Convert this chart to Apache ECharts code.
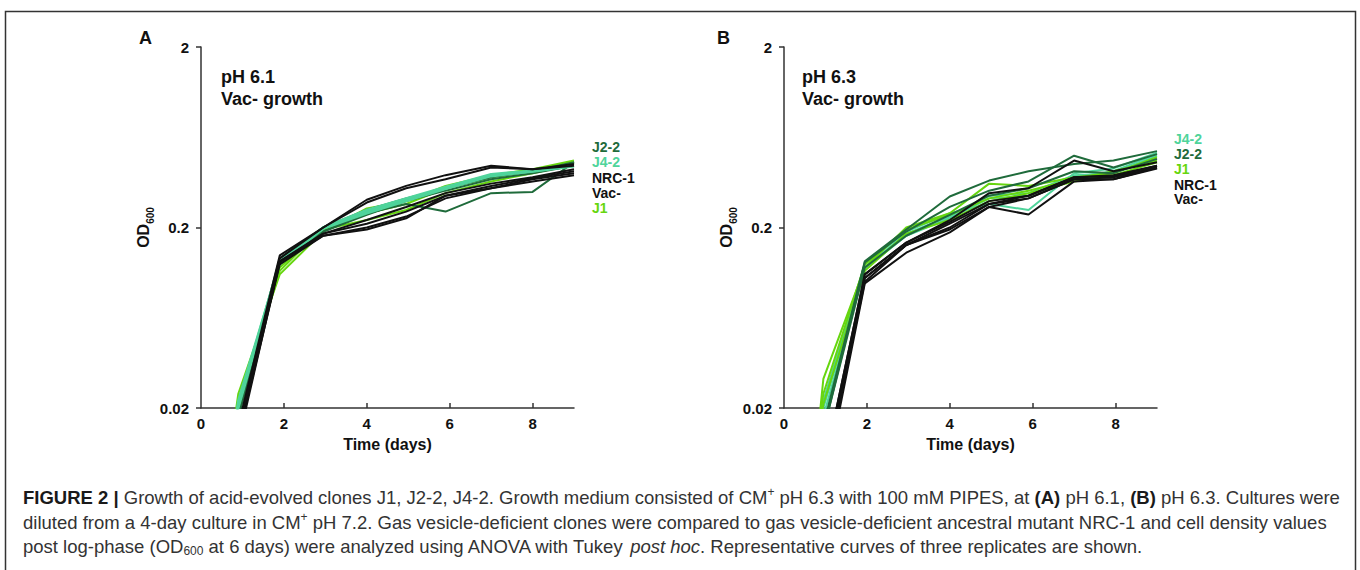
<!DOCTYPE html>
<html>
<head>
<meta charset="utf-8">
<script src="https://cdn.jsdelivr.net/npm/echarts@6/dist/echarts.min.js"></script>
<style>
html,body{margin:0;padding:0;background:#fff;}
#chart{width:1360px;height:570px;}
</style>
</head>
<body>
<div id="chart"></div>
<script>
// ---------- DATA ----------
const X_TICKS = [0, 2, 4, 6, 8];
const Y_TICK_LABELS = ['0.02', '0.2', '2'];
const STRAINS = ['J2-2', 'J4-2', 'NRC-1', 'Vac-', 'J1'];

// Panel A: pH 6.1 (sample times in days)
const A_DAYS = [0, 0.9, 1.9, 2.95, 4, 4.95, 5.9, 7, 8, 9];
const A_J22 = [
  [0.0008, 0.018, 0.13, 0.19, 0.24, 0.27, 0.245, 0.31, 0.315, 0.46],
  [0.0008, 0.019, 0.135, 0.2, 0.25, 0.29, 0.33, 0.38, 0.41, 0.46],
  [0.0008, 0.018, 0.125, 0.19, 0.235, 0.28, 0.32, 0.37, 0.4, 0.44]
];
const A_J42 = [
  [0.0008, 0.021, 0.13, 0.2, 0.245, 0.285, 0.33, 0.39, 0.41, 0.44],
  [0.0008, 0.02, 0.127, 0.197, 0.24, 0.28, 0.328, 0.385, 0.408, 0.437],
  [0.0008, 0.022, 0.128, 0.2, 0.25, 0.29, 0.335, 0.395, 0.413, 0.445]
];
const A_NRC1 = [
  [0.0008, 0.016, 0.14, 0.2, 0.285, 0.34, 0.39, 0.44, 0.42, 0.45],
  [0.0008, 0.015, 0.135, 0.2, 0.275, 0.33, 0.37, 0.43, 0.42, 0.44],
  [0.0008, 0.015, 0.128, 0.185, 0.22, 0.26, 0.31, 0.35, 0.38, 0.42]
];
const A_VAC = [
  [0.0008, 0.014, 0.125, 0.18, 0.2, 0.23, 0.29, 0.33, 0.37, 0.4],
  [0.0008, 0.014, 0.13, 0.18, 0.195, 0.225, 0.3, 0.33, 0.36, 0.39],
  [0.0008, 0.013, 0.13, 0.185, 0.21, 0.245, 0.3, 0.34, 0.375, 0.41]
];
const A_J1 = [
  [0.0008, 0.024, 0.11, 0.19, 0.255, 0.28, 0.34, 0.39, 0.42, 0.47],
  [0.0008, 0.022, 0.12, 0.195, 0.22, 0.25, 0.31, 0.36, 0.4, 0.45],
  [0.0008, 0.02, 0.115, 0.2, 0.24, 0.27, 0.33, 0.38, 0.41, 0.46]
];

// Panel B: pH 6.3
const B_DAYS = [0, 0.95, 1.95, 2.95, 4, 4.95, 5.9, 7, 7.95, 9];
const B_J42 = [
  [0.0008, 0.022, 0.125, 0.19, 0.24, 0.27, 0.25, 0.4, 0.425, 0.52],
  [0.0008, 0.02, 0.12, 0.185, 0.23, 0.3, 0.31, 0.39, 0.4, 0.5],
  [0.0008, 0.018, 0.118, 0.18, 0.225, 0.29, 0.3, 0.38, 0.41, 0.51]
];
const B_J22 = [
  [0.0008, 0.016, 0.13, 0.195, 0.297, 0.364, 0.41, 0.45, 0.47, 0.53],
  [0.0008, 0.015, 0.128, 0.19, 0.26, 0.32, 0.36, 0.5, 0.43, 0.51],
  [0.0008, 0.015, 0.12, 0.18, 0.235, 0.3, 0.33, 0.41, 0.4, 0.48]
];
const B_J1 = [
  [0.0002, 0.029, 0.12, 0.2, 0.24, 0.35, 0.34, 0.38, 0.4, 0.49],
  [0.0008, 0.024, 0.125, 0.195, 0.235, 0.29, 0.32, 0.37, 0.41, 0.47],
  [0.0008, 0.021, 0.115, 0.185, 0.22, 0.28, 0.31, 0.36, 0.39, 0.46]
];
const B_NRC1 = [
  [0.0008, 0.009, 0.11, 0.165, 0.22, 0.31, 0.33, 0.47, 0.41, 0.46],
  [0.0008, 0.008, 0.105, 0.16, 0.21, 0.27, 0.3, 0.38, 0.39, 0.44],
  [0.0008, 0.008, 0.1, 0.16, 0.195, 0.26, 0.29, 0.37, 0.38, 0.43]
];
const B_VAC = [
  [0.0008, 0.007, 0.098, 0.145, 0.188, 0.26, 0.236, 0.36, 0.37, 0.425],
  [0.0008, 0.008, 0.105, 0.16, 0.2, 0.27, 0.29, 0.37, 0.37, 0.43],
  [0.0008, 0.009, 0.11, 0.165, 0.215, 0.28, 0.3, 0.38, 0.385, 0.44]
];

// ---------- STYLE ----------
const COLORS = { 'J2-2': '#1f6b3b', 'J4-2': '#4fd49b', 'NRC-1': '#111111', 'Vac-': '#111111', 'J1': '#66d60f' };
const Y_MIN_OD = 0.02;
const toY = v => Math.log10(v / Y_MIN_OD);

function makeSeries(days, reps, strain, idx, width) {
  return reps.map(r => ({
    type: 'line', xAxisIndex: idx, yAxisIndex: idx, name: strain,
    data: days.map((d, i) => [d, toY(r[i])]),
    showSymbol: false, symbol: 'none', clip: true, silent: true,
    lineStyle: { color: COLORS[strain], width: width || 2 }
  }));
}

const seriesA = [].concat(
  makeSeries(A_DAYS, A_J1, 'J1', 0),
  makeSeries(A_DAYS, A_J22, 'J2-2', 0),
  makeSeries(A_DAYS, A_J42, 'J4-2', 0, 2.5),
  makeSeries(A_DAYS, A_VAC, 'Vac-', 0),
  makeSeries(A_DAYS, A_NRC1, 'NRC-1', 0)
);
const seriesB = [].concat(
  makeSeries(B_DAYS, B_J42, 'J4-2', 1),
  makeSeries(B_DAYS, B_J1, 'J1', 1),
  makeSeries(B_DAYS, B_J22, 'J2-2', 1),
  makeSeries(B_DAYS, B_VAC, 'Vac-', 1),
  makeSeries(B_DAYS, B_NRC1, 'NRC-1', 1)
);

const FONT = "'Liberation Sans', Arial, Helvetica, sans-serif";
const AXIS_COLOR = '#333';

function xAxisCfg(gi) {
  return {
    type: 'value', gridIndex: gi, min: 0, max: 9, interval: 2,
    name: 'Time (days)', nameLocation: 'middle', nameGap: 28,
    nameTextStyle: { fontFamily: FONT, fontWeight: 'bold', fontSize: 16, color: '#111' },
    axisLine: { show: true, lineStyle: { color: AXIS_COLOR, width: 1.5 } },
    axisTick: { show: true, inside: true, length: 5, customValues: [2, 4, 6, 8], lineStyle: { color: AXIS_COLOR, width: 1.5 } },
    axisLabel: { customValues: X_TICKS, margin: 8, fontFamily: FONT, fontWeight: 'bold', fontSize: 15, color: '#111' },
    splitLine: { show: false }
  };
}
function yAxisCfg(gi) {
  return {
    type: 'value', gridIndex: gi, min: 0, max: 2, interval: 1,
    name: '{od|OD}{sub|600}', nameLocation: 'middle', nameGap: 48, nameRotate: 90,
    nameTextStyle: {
      fontFamily: FONT, fontWeight: 'bold', fontSize: 16, color: '#111',
      rich: {
        od: { fontFamily: FONT, fontWeight: 'bold', fontSize: 16, color: '#111', lineHeight: 20, verticalAlign: 'bottom' },
        sub: { fontFamily: FONT, fontWeight: 'bold', fontSize: 10, color: '#111', lineHeight: 20, verticalAlign: 'bottom', padding: [0, 0, -4, 0] }
      }
    },
    axisLine: { show: true, lineStyle: { color: AXIS_COLOR, width: 1.5 } },
    axisTick: { show: true, inside: false, length: 5, lineStyle: { color: AXIS_COLOR, width: 1.5 } },
    axisLabel: { margin: 12, fontFamily: FONT, fontWeight: 'bold', fontSize: 15, color: '#111',
      formatter: v => Y_TICK_LABELS[Math.round(v)] },
    splitLine: { show: false }
  };
}

function legendTexts(x, ys, order) {
  return order.map((s, i) => ({
    type: 'text', left: x, top: ys[i] - 7,
    style: { text: s, fontFamily: FONT, fontWeight: 'bold', fontSize: 14, lineHeight: 14, fill: COLORS[s] }
  }));
}

const CAP_FONT = "'Liberation Sans', Arial, Helvetica, sans-serif";
const CAP_SIZE = 18.5;
const capRich = {
  b: { fontFamily: CAP_FONT, fontWeight: 'bold', fontSize: CAP_SIZE, fill: '#1a1a1a', lineHeight: 22 },
  sup: { fontFamily: CAP_FONT, fontSize: 12, fill: '#333', lineHeight: 22, verticalAlign: 'top' },
  sub: { fontFamily: CAP_FONT, fontSize: 12, fill: '#333', lineHeight: 22, verticalAlign: 'bottom' },
  i: { fontFamily: CAP_FONT, fontStyle: 'italic', fontSize: CAP_SIZE, fill: '#333', lineHeight: 22 }
};
const CAPTION = [
  '{b|FIGURE 2 |} Growth of acid-evolved clones J1, J2-2, J4-2. Growth medium consisted of CM{sup|+} pH 6.3 with 100 mM PIPES, at {b|(A)} pH 6.1, {b|(B)} pH 6.3. Cultures were',
  'diluted from a 4-day culture in CM{sup|+} pH 7.2. Gas vesicle-deficient clones were compared to gas vesicle-deficient ancestral mutant NRC-1 and cell density values',
  'post log-phase (OD{sub|600} at 6 days) were analyzed using ANOVA with Tukey {i|post hoc}. Representative curves of three replicates are shown.'
];
const CAP_Y = [497, 522, 546];

const graphics = [
  { type: 'rect', shape: { x: 5.5, y: 11.5, width: 1350, height: 600 }, style: { fill: 'none', stroke: '#333', lineWidth: 1.5 }, silent: true },
  { type: 'text', left: 139, top: 29, style: { text: 'A', fontFamily: FONT, fontWeight: 'bold', fontSize: 18, fill: '#111' } },
  { type: 'text', left: 717, top: 29, style: { text: 'B', fontFamily: FONT, fontWeight: 'bold', fontSize: 18, fill: '#111' } },
  { type: 'text', left: 221, top: 66, style: { text: 'pH 6.1\nVac- growth', fontFamily: FONT, fontWeight: 'bold', fontSize: 18, lineHeight: 22, fill: '#111' } },
  { type: 'text', left: 802, top: 66, style: { text: 'pH 6.3\nVac- growth', fontFamily: FONT, fontWeight: 'bold', fontSize: 18, lineHeight: 22, fill: '#111' } }
]
.concat(legendTexts(592, [147, 162, 178, 193, 208], ['J2-2', 'J4-2', 'NRC-1', 'Vac-', 'J1']))
.concat(legendTexts(1174, [139, 154, 169, 185, 199], ['J4-2', 'J2-2', 'J1', 'NRC-1', 'Vac-']))
.concat(CAPTION.map((t, i) => ({
  type: 'text', left: 23, top: CAP_Y[i] - 11,
  style: { text: t, rich: capRich, fontFamily: CAP_FONT, fontSize: CAP_SIZE, fill: '#333', lineHeight: 22 }
})));

const chart = echarts.init(document.getElementById('chart'), null, { renderer: 'svg', width: 1360, height: 570 });
chart.setOption({
  animation: false,
  backgroundColor: '#fff',
  grid: [
    { left: 201, top: 47, width: 373, height: 361 },
    { left: 784, top: 47, width: 373, height: 361 }
  ],
  xAxis: [xAxisCfg(0), xAxisCfg(1)],
  yAxis: [yAxisCfg(0), yAxisCfg(1)],
  series: seriesA.concat(seriesB),
  graphic: graphics
});
</script>
</body>
</html>
